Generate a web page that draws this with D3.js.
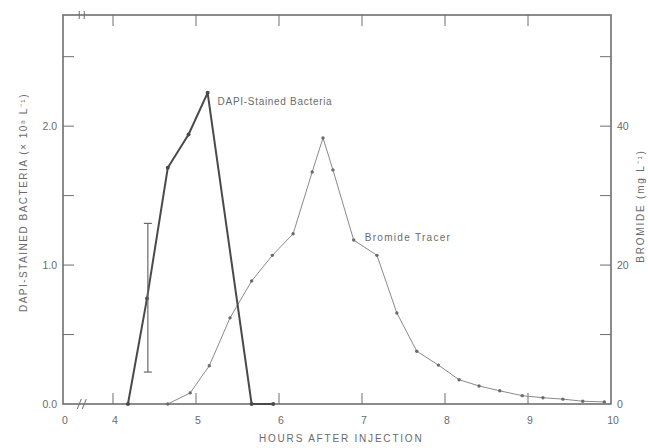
<!DOCTYPE html>
<html>
<head>
<meta charset="utf-8">
<script src="https://cdn.jsdelivr.net/npm/d3@7"></script>
<style>
  body { margin: 0; background: #fff; }
  text { font-family: "Liberation Sans", Arial, sans-serif; fill: #6b6b6b; }
</style>
</head>
<body>
<script>
// DAPI-stained bacteria (x 10^8 per L), left axis
const dapiHours = [4.18, 4.41, 4.66, 4.91, 5.14, 5.67, 5.93];
const dapiValues = [0, 0.76, 1.70, 1.94, 2.24, 0, 0];
const dapiErrorHour = 4.42;
const dapiErrorLow = 0.23;
const dapiErrorHigh = 1.30;

// bromide tracer (mg per L), right axis
const bromideHours = [4.66, 4.93, 5.16, 5.41, 5.67, 5.92, 6.17, 6.40, 6.53, 6.65, 6.90, 7.18,
    7.42, 7.66, 7.92, 8.17, 8.41, 8.66, 8.93, 9.18, 9.42, 9.66, 9.92];
const bromideValues = [0, 1.6, 5.5, 12.4, 17.7, 21.4, 24.5, 33.4, 38.3, 33.7, 23.6, 21.4,
    13.1, 7.6, 5.6, 3.5, 2.6, 1.9, 1.2, 0.9, 0.7, 0.4, 0.3];

const xTicks = [0, 4, 5, 6, 7, 8, 9, 10];
const leftTicks = [0, 0.5, 1, 1.5, 2, 2.5];
const leftLabels = [0, 1, 2];
const rightTicks = [0, 10, 20, 30, 40, 50];
const rightLabels = [0, 20, 40];

function main(){
    const canvasWidth = 648;
    const canvasHeight = 448;
    const margin = {left: 63, top: 15, right: 37, bottom: 44};
    const width = canvasWidth - margin.left - margin.right;
    const height = canvasHeight - margin.top - margin.bottom;
    const ink = "#6f6f6f";

    const svg = d3.select("body").append("svg")
        .attr("width", canvasWidth)
        .attr("height", canvasHeight);

    // broken time axis: 0 .. 4 squeezed, 4 .. 10 linear
    const xScale = d3.scaleLinear().domain([0, 4, 10]).range([0, 50, width]);
    const yLeft = d3.scaleLinear().domain([0, 2.8]).range([height, 0]);
    const yRight = d3.scaleLinear().domain([0, 56]).range([height, 0]);

    const g = svg.append("g")
        .attr("transform", "translate(" + margin.left + "," + margin.top + ")");

    // frame
    g.append("rect")
        .attr("width", width).attr("height", height)
        .attr("fill", "none").attr("stroke", ink).attr("stroke-width", 1.6);

    // inward ticks
    const tickLen = 11;
    const inner = xTicks.filter(d => d > 0 && d < 10);
    g.selectAll(".tb").data(inner).join("line")
        .attr("x1", d => xScale(d)).attr("x2", d => xScale(d))
        .attr("y1", height).attr("y2", height - tickLen)
        .attr("stroke", ink).attr("stroke-width", 1);
    g.selectAll(".tt").data(inner).join("line")
        .attr("x1", d => xScale(d)).attr("x2", d => xScale(d))
        .attr("y1", 0).attr("y2", tickLen)
        .attr("stroke", ink).attr("stroke-width", 1);
    g.selectAll(".tl").data(leftTicks.filter(d => d > 0)).join("line")
        .attr("x1", 0).attr("x2", tickLen)
        .attr("y1", d => yLeft(d)).attr("y2", d => yLeft(d))
        .attr("stroke", ink).attr("stroke-width", 1);
    g.selectAll(".tr").data(rightTicks.filter(d => d > 0)).join("line")
        .attr("x1", width).attr("x2", width - tickLen)
        .attr("y1", d => yRight(d)).attr("y2", d => yRight(d))
        .attr("stroke", ink).attr("stroke-width", 1);

    // axis break marks
    const bx = xScale(1.5);
    [-2.5, 2.5].forEach(off => {
        g.append("line")
            .attr("x1", bx + off - 2).attr("x2", bx + off + 2)
            .attr("y1", height + 5).attr("y2", height - 5)
            .attr("stroke", ink).attr("stroke-width", 1);
        g.append("line")
            .attr("x1", bx + off).attr("x2", bx + off)
            .attr("y1", -4).attr("y2", 4)
            .attr("stroke", ink).attr("stroke-width", 1);
    });

    // tick labels
    g.selectAll(".xl").data(xTicks).join("text")
        .attr("x", d => xScale(d) + 2).attr("y", height + 20)
        .attr("text-anchor", "middle").attr("font-size", "10.5px")
        .text(d => d);
    g.selectAll(".ll").data(leftLabels).join("text")
        .attr("x", -6).attr("y", d => yLeft(d) + 4)
        .attr("text-anchor", "end").attr("font-size", "10.5px")
        .text(d => d.toFixed(1));
    g.selectAll(".rl").data(rightLabels).join("text")
        .attr("x", width + 6).attr("y", d => yRight(d) + 4)
        .attr("text-anchor", "start").attr("font-size", "10.5px")
        .text(d => d);

    // axis titles
    svg.append("text")
        .attr("x", margin.left + xScale(6.75)).attr("y", 442)
        .attr("text-anchor", "middle").attr("font-size", "10px")
        .attr("letter-spacing", "1.8px")
        .text("HOURS AFTER INJECTION");
    svg.append("text")
        .attr("transform", "translate(27," + (margin.top + yLeft(1.45)) + ") rotate(-90)")
        .attr("text-anchor", "middle").attr("font-size", "10px")
        .attr("letter-spacing", "1.5px")
        .text("DAPI-STAINED BACTERIA  (\u00d7 10\u2078 L\u207b\u00b9)");
    svg.append("text")
        .attr("transform", "translate(644," + (margin.top + yRight(28.5)) + ") rotate(-90)")
        .attr("text-anchor", "middle").attr("font-size", "10px")
        .attr("letter-spacing", "1.8px")
        .text("BROMIDE  (mg L\u207b\u00b9)");

    // bromide tracer
    const bromide = bromideHours.map((h, i) => ({h: h, v: bromideValues[i]}));
    g.append("path").datum(bromide)
        .attr("fill", "none").attr("stroke", "#8a8a8a").attr("stroke-width", 1)
        .attr("d", d3.line().x(d => xScale(d.h)).y(d => yRight(d.v)));
    g.selectAll(".bp").data(bromide).join("circle")
        .attr("cx", d => xScale(d.h)).attr("cy", d => yRight(d.v))
        .attr("r", 1.7).attr("fill", "#6a6a6a");

    // DAPI bacteria
    const dapi = dapiHours.map((h, i) => ({h: h, v: dapiValues[i]}));
    g.append("path").datum(dapi)
        .attr("fill", "none").attr("stroke", "#4a4a4a").attr("stroke-width", 2)
        .attr("stroke-linejoin", "round")
        .attr("d", d3.line().x(d => xScale(d.h)).y(d => yLeft(d.v)));
    g.selectAll(".dp").data(dapi).join("circle")
        .attr("cx", d => xScale(d.h)).attr("cy", d => yLeft(d.v))
        .attr("r", 2).attr("fill", "#4a4a4a");

    // error bar
    const ex = xScale(dapiErrorHour);
    g.append("line")
        .attr("x1", ex).attr("x2", ex)
        .attr("y1", yLeft(dapiErrorLow)).attr("y2", yLeft(dapiErrorHigh))
        .attr("stroke", "#6a6a6a").attr("stroke-width", 1.2);
    [dapiErrorLow, dapiErrorHigh].forEach(v => {
        g.append("line")
            .attr("x1", ex - 4).attr("x2", ex + 4)
            .attr("y1", yLeft(v)).attr("y2", yLeft(v))
            .attr("stroke", "#6a6a6a").attr("stroke-width", 1.2);
    });

    // series labels
    g.append("text")
        .attr("x", xScale(5.14) + 10).attr("y", yLeft(2.24) + 12)
        .attr("font-size", "10px").attr("letter-spacing", "0.7px")
        .text("DAPI-Stained Bacteria");
    g.append("text")
        .attr("x", xScale(6.90) + 11).attr("y", yRight(23.6) + 1)
        .attr("font-size", "10px").attr("letter-spacing", "1.3px")
        .text("Bromide Tracer");
}
main();
</script>
</body>
</html>
